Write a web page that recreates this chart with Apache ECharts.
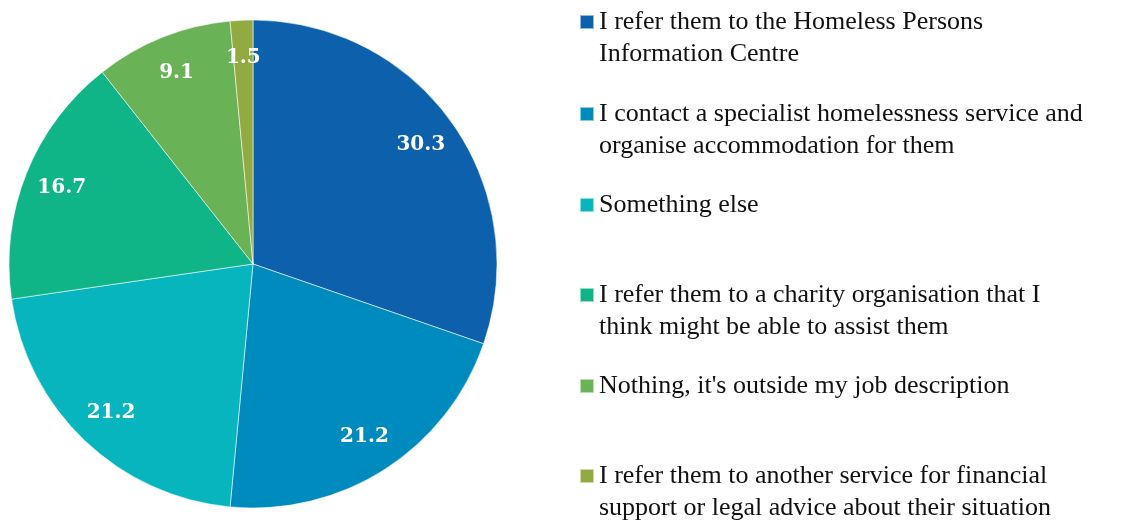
<!DOCTYPE html>
<html>
<head>
<meta charset="utf-8">
<script src="https://cdn.jsdelivr.net/npm/echarts@6/dist/echarts.min.js"></script>
<style>
  html, body { margin: 0; padding: 0; background: #ffffff; }
  #chart { width: 1139px; height: 522px; }
</style>
</head>
<body>
<div id="chart"></div>
<script>
// Responses: what staff do when someone tells them they are homeless (%)
const categories = [
  'I refer them to the Homeless Persons\nInformation Centre',
  'I contact a specialist homelessness service and\norganise accommodation for them',
  'Something else',
  'I refer them to a charity organisation that I\nthink might be able to assist them',
  "Nothing, it's outside my job description",
  'I refer them to another service for financial\nsupport or legal advice about their situation'
];
const values = [30.3, 21.2, 21.2, 16.7, 9.1, 1.5];
const colors = ['#0C60AC', '#008BBE', '#07B5BF', '#0FB587', '#6AB256', '#92AB40'];

const CENTER = [253, 264];
const RADIUS = 244;
const FONT = "'Liberation Serif', 'DejaVu Serif', serif";
const LINE_H = 32;

const pieData = categories.map((name, i) => ({
  name: name,
  value: values[i],
  itemStyle: { color: colors[i] }
}));

// legend rows: centre of the first text line of each entry
const legendRows = [22, 114, 205, 295, 386, 476];

// Each entry gets its own legend so the rows can sit on a fixed rhythm.
// Two-line entries get a leading blank line, which puts the marker beside the first line.
const legends = categories.map((name, i) => {
  const twoLines = name.indexOf('\n') >= 0;
  const boxH = twoLines ? LINE_H * 3 : LINE_H;
  return {
    data: [name],
    orient: 'vertical',
    left: 579,
    top: legendRows[i] - boxH / 2,
    padding: 0,
    icon: 'rect',
    itemWidth: 14,
    itemHeight: 14,
    selectedMode: false,
    formatter: n => (twoLines ? '\n' + n : n),
    textStyle: {
      fontFamily: FONT,
      fontSize: 26,
      color: '#111111',
      lineHeight: LINE_H
    }
  };
});

const chart = echarts.init(document.getElementById('chart'), null, { renderer: 'canvas' });
chart.setOption({
  animation: false,
  backgroundColor: '#ffffff',
  legend: legends,
  series: [
    {
      type: 'pie',
      center: CENTER,
      radius: [0, RADIUS],
      startAngle: 90,
      clockwise: true,
      data: pieData,
      label: { show: false },
      labelLine: { show: false },
      itemStyle: { borderColor: 'rgba(255,255,255,0.55)', borderWidth: 1 },
      emphasis: { disabled: true },
      silent: true
    },
    {
      // transparent ring that carries the value labels at ~203px from the centre
      type: 'pie',
      center: CENTER,
      radius: [164, 242],
      startAngle: 90,
      clockwise: true,
      data: pieData.map(d => ({ name: d.name, value: d.value })),
      itemStyle: { color: 'rgba(0,0,0,0)', borderWidth: 0 },
      label: {
        show: true,
        position: 'inside',
        formatter: p => p.value.toFixed(1),
        color: '#ffffff',
        fontFamily: "'DejaVu Serif', serif",
        fontWeight: 'bold',
        fontSize: 20
      },
      labelLine: { show: false },
      emphasis: { disabled: true },
      silent: true
    }
  ]
});
</script>
</body>
</html>
